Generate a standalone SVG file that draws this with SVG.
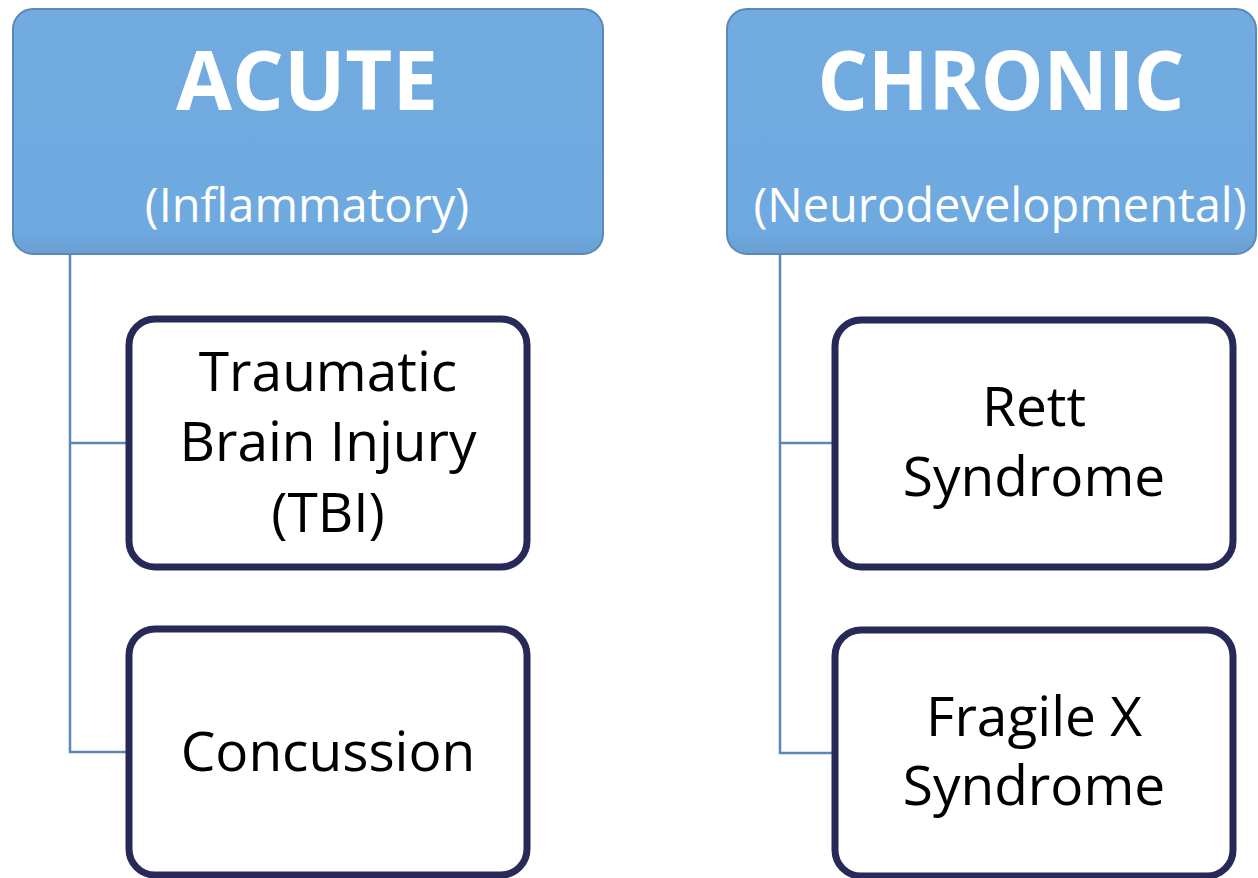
<svg xmlns="http://www.w3.org/2000/svg" width="1258" height="878" viewBox="0 0 1258 878">
<defs>
<linearGradient id="hg" x1="0" y1="0" x2="0" y2="1">
<stop offset="0" stop-color="#72abe0"/>
<stop offset="0.9" stop-color="#6ea9df"/>
<stop offset="1" stop-color="#6a9fd2"/>
</linearGradient>
</defs>
<style>
.hdr{fill:url(#hg);stroke:#5b88b8;stroke-width:2}
.child{fill:#ffffff;stroke:#272a57;stroke-width:7}
.conn{fill:none;stroke:#5b87b8;stroke-width:2.5}
.title{font-family:"Open Sans","Liberation Sans",sans-serif;font-weight:bold;fill:#ffffff;text-anchor:middle}
.sub{font-family:"Open Sans","Liberation Sans",sans-serif;fill:#ffffff;text-anchor:middle;font-size:47px}
.lbl{font-family:"Open Sans","Liberation Sans",sans-serif;fill:#000000;text-anchor:middle;font-size:55px}
</style>
<rect width="1258" height="878" fill="#ffffff"/>
<g id="connectors">
<path class="conn" d="M70,255 V752 H126 M70,443 H126"/>
<path class="conn" d="M780,255 V753 H832 M780,443 H832"/>
</g>
<g id="acute">
<rect class="hdr" x="13" y="9" width="590" height="245" rx="20"/>
<text class="title" x="307" y="110" font-size="82" textLength="262" lengthAdjust="spacingAndGlyphs">ACUTE</text>
<text class="sub" x="307" y="222">(Inflammatory)</text>
</g>
<g id="chronic">
<rect class="hdr" x="727" y="9" width="529" height="245" rx="20"/>
<text class="title" x="1001" y="110" font-size="82" textLength="367" lengthAdjust="spacingAndGlyphs">CHRONIC</text>
<text class="sub" x="1000" y="222">(Neurodevelopmental)</text>
</g>
<g id="tbi">
<rect class="child" x="129" y="319" width="398" height="248" rx="26"/>
<text class="lbl" x="328" y="391">Traumatic</text>
<text class="lbl" x="328" y="461">Brain Injury</text>
<text class="lbl" x="328" y="532">(TBI)</text>
</g>
<g id="concussion">
<rect class="child" x="129" y="629" width="398" height="246" rx="26"/>
<text class="lbl" x="328" y="771">Concussion</text>
</g>
<g id="rett">
<rect class="child" x="835" y="320" width="398" height="247" rx="26"/>
<text class="lbl" x="1034" y="426">Rett</text>
<text class="lbl" x="1034" y="496">Syndrome</text>
</g>
<g id="fragilex">
<rect class="child" x="835" y="630" width="398" height="246" rx="26"/>
<text class="lbl" x="1034" y="736">Fragile X</text>
<text class="lbl" x="1034" y="805">Syndrome</text>
</g>
</svg>
